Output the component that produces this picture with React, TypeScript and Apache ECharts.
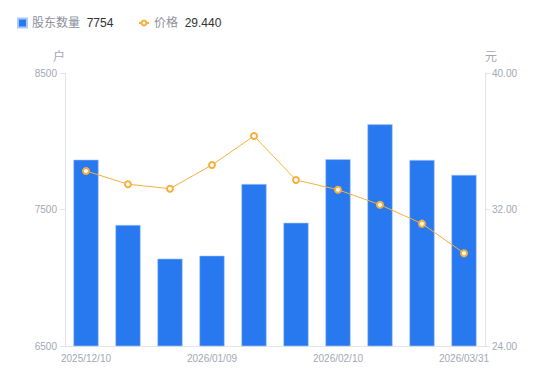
import React, { useEffect, useRef } from "react";
import * as echarts from "echarts";

const categories = [
  "2025/12/10", "2025/12/19", "2025/12/31", "2026/01/09", "2026/01/20",
  "2026/01/30", "2026/02/10", "2026/02/27", "2026/03/10", "2026/03/31",
];
const holders = [7865, 7387, 7140, 7162, 7687, 7403, 7868, 8124, 7863, 7754];
const prices = [34.26, 33.48, 33.22, 34.61, 36.31, 33.73, 33.16, 32.28, 31.17, 29.44];
const leftTicks = { min: 6500, max: 8500, interval: 1000 };
const rightTicks = { min: 24, max: 40, interval: 8 };

const BLUE = "#2878f0";
const ORANGE = "#f7b03c";
const GRAY = "#a3a7b3";
const FONT = "'Liberation Sans', Arial, 'Noto Sans CJK SC', sans-serif";

export default function App() {
  const ref = useRef<HTMLDivElement>(null);
  useEffect(() => {
    if (!ref.current) return;
    const chart = echarts.init(ref.current, undefined, { renderer: "svg" });
    const lastVal: Record<string, string> = {
      "股东数量": String(holders[holders.length - 1]),
      "价格": prices[prices.length - 1].toFixed(3),
    };
    const legendText = {
      rich: {
        a: { color: "#8c909c", fontSize: 12, fontFamily: FONT },
        b: { color: "#333333", fontSize: 12, fontFamily: FONT },
      },
    };
    chart.setOption({
      animation: false,
      textStyle: { fontFamily: FONT },
      legend: [
        {
          left: 17,
          top: 17,
          padding: 0,
          itemWidth: 9,
          itemHeight: 9,
          data: [{ name: "股东数量", icon: "rect" }],
          formatter: (name: string) => `{a|${name}}  {b|${lastVal[name]}}`,
          textStyle: legendText,
        },
        {
          left: 138,
          top: 17,
          padding: 0,
          itemWidth: 10,
          itemHeight: 6,
          data: [{ name: "价格" }],
          formatter: (name: string) => `{a|${name}}  {b|${lastVal[name]}}`,
          textStyle: legendText,
        },
      ],
      grid: { left: 65, right: 65, top: 73, bottom: 35, containLabel: false },
      xAxis: {
        type: "category",
        data: categories,
        axisLine: { lineStyle: { color: "#e3e4e8" } },
        axisTick: { show: false },
        axisLabel: { color: GRAY, fontSize: 10, interval: 2, margin: 7 },
      },
      yAxis: [
        {
          type: "value",
          name: "户",
          nameGap: 10,
          nameTextStyle: { color: GRAY, fontSize: 12, align: "right" },
          min: leftTicks.min,
          max: leftTicks.max,
          interval: leftTicks.interval,
          axisLine: { show: true, lineStyle: { color: "#e3e4e8" } },
          axisTick: { show: true, length: 5, lineStyle: { color: "#e3e4e8" } },
          axisLabel: { color: GRAY, fontSize: 10, margin: 8, formatter: (v: number) => String(v) },
          splitLine: { show: false },
        },
        {
          type: "value",
          name: "元",
          nameGap: 10,
          nameTextStyle: { color: GRAY, fontSize: 12, align: "left" },
          min: rightTicks.min,
          max: rightTicks.max,
          interval: rightTicks.interval,
          axisLine: { show: true, lineStyle: { color: "#e3e4e8" } },
          axisTick: { show: true, length: 5, lineStyle: { color: "#e3e4e8" } },
          axisLabel: {
            color: GRAY,
            fontSize: 10,
            margin: 7,
            formatter: (v: number) => v.toFixed(2),
          },
          splitLine: { show: false },
        },
      ],
      series: [
        {
          name: "股东数量",
          type: "bar",
          yAxisIndex: 0,
          data: holders,
          barWidth: "60%",
          itemStyle: { color: BLUE, borderColor: "#a9c9f8", borderWidth: 0.6 },
        },
        {
          name: "价格",
          type: "line",
          yAxisIndex: 1,
          data: prices,
          symbol: "circle",
          symbolSize: 6,
          lineStyle: { color: ORANGE, width: 1 },
          itemStyle: { color: "#ffffff", borderColor: ORANGE, borderWidth: 2 },
          z: 3,
        },
      ],
    });
    return () => chart.dispose();
  }, []);
  return <div ref={ref} style={{ width: 550, height: 381, margin: -8 }} />;
}
